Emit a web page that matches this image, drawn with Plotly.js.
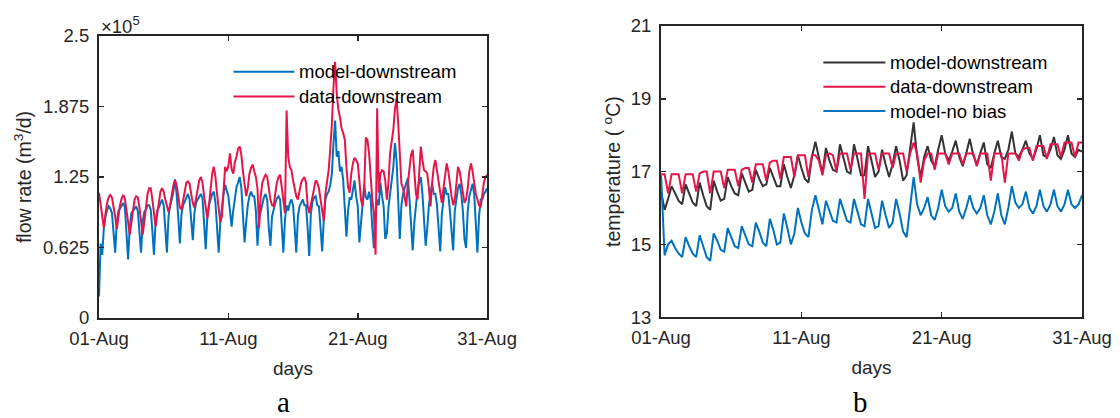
<!DOCTYPE html>
<html><head><meta charset="utf-8">
<script src="https://cdn.plot.ly/plotly-3.0.1.min.js"></script>
<style>html,body{margin:0;padding:0;background:#fff;} #chart{width:1120px;height:418px;}</style>
</head><body><div id="chart"></div>
<script>
// ---------- data ----------
// flow rate (units of 1e5 m3/d), sampled every 3 h from 01-Aug 00:00
const flowStepHours = 3;
const flowModel = [
0.19,0.66,0.56,0.80,0.90,0.96,0.99,0.97,
0.93,0.75,0.58,0.85,0.95,0.97,1.00,1.02,
0.98,0.75,0.52,0.80,0.93,0.95,0.97,0.99,
0.95,0.78,0.58,0.85,0.94,0.96,1.00,1.00,
0.96,0.77,0.56,0.86,0.95,0.98,1.02,1.05,
1.00,0.80,0.58,0.90,1.00,1.05,1.12,1.23,
1.10,0.90,0.66,0.92,1.00,1.03,1.07,1.10,
1.05,0.90,0.69,0.93,1.02,1.05,1.08,1.10,
1.06,0.85,0.61,0.90,1.00,1.05,1.10,1.12,
1.02,0.80,0.58,0.85,1.00,1.10,1.18,1.12,
1.08,0.95,0.81,0.95,1.08,1.16,1.20,1.25,
1.16,0.95,0.67,0.85,1.00,1.08,1.12,1.08,
1.08,0.95,0.64,0.88,0.95,1.02,1.07,1.10,
1.05,0.80,0.64,0.90,0.97,1.02,1.06,1.08,
1.05,0.85,0.58,0.87,1.00,0.95,1.02,1.05,
1.00,0.80,0.58,0.90,0.99,1.02,1.05,1.00,
1.00,0.80,0.55,0.92,1.03,1.07,1.08,1.00,
0.99,0.80,0.59,0.87,1.05,1.10,1.12,1.18,
1.28,1.55,1.75,1.43,1.48,1.30,1.34,1.22,
1.00,0.72,0.95,1.07,1.05,1.15,1.22,1.08,
0.99,0.67,0.85,1.04,1.18,1.07,1.05,1.12,
1.05,0.80,0.62,0.93,1.05,1.00,1.20,1.08,
0.99,0.70,0.75,0.98,1.10,1.19,1.34,1.55,
1.40,1.05,0.70,1.00,1.10,1.15,1.20,1.24,
1.05,0.80,0.60,0.85,1.00,1.14,1.20,1.25,
1.10,0.85,0.64,0.80,1.00,1.10,1.19,1.10,
1.10,1.00,0.80,0.59,0.92,1.05,1.16,1.10,
1.10,0.95,0.75,0.60,0.95,1.08,1.15,1.19,
1.10,0.95,0.70,0.62,0.95,1.08,1.15,1.19,
1.10,0.85,0.58,0.90,1.05,1.05,1.10,1.12,
1.15];
const flowData = [
1.11,1.00,0.88,0.80,0.92,1.02,1.07,1.09,
1.07,1.00,0.90,0.79,0.90,1.00,1.06,1.09,
1.06,0.97,0.85,0.74,0.85,0.98,1.05,1.08,
1.07,0.98,0.85,0.74,0.85,1.00,1.10,1.15,
1.15,1.05,0.92,0.81,0.92,1.05,1.12,1.15,
1.12,1.05,0.98,0.94,1.00,1.10,1.18,1.22,
1.18,1.08,0.98,0.96,1.05,1.15,1.20,1.21,
1.19,1.10,1.02,0.98,1.05,1.15,1.22,1.25,
1.20,1.08,0.95,0.88,1.00,1.15,1.28,1.34,
1.25,1.10,0.95,0.85,0.90,1.10,1.34,1.30,
1.35,1.46,1.32,1.28,1.38,1.43,1.50,1.52,
1.45,1.30,1.20,1.08,1.15,1.28,1.33,1.36,
1.30,1.25,1.15,0.80,1.08,1.20,1.24,1.27,
1.25,1.15,1.05,1.00,0.99,1.10,1.20,1.25,
1.27,1.16,1.05,0.93,1.84,1.43,1.34,1.31,
1.22,1.14,1.08,1.05,1.12,1.20,1.23,1.25,
1.20,1.00,0.93,1.00,1.08,1.15,1.22,1.20,
1.15,1.05,0.95,0.86,1.10,1.20,1.31,1.50,
1.72,2.05,2.27,1.99,1.85,1.78,1.68,1.64,
1.58,1.34,1.16,1.11,1.28,1.37,1.42,1.40,
1.37,1.22,1.05,0.99,1.16,1.60,1.58,1.46,
1.22,1.05,0.93,0.56,1.86,1.11,1.28,1.31,
1.30,1.22,1.05,1.20,1.46,1.55,1.67,1.85,
1.95,1.73,1.49,1.19,1.15,1.08,0.99,1.20,
1.34,1.45,1.49,1.30,1.10,1.05,1.30,1.52,
1.40,1.31,1.30,1.28,1.15,0.99,1.20,1.34,
1.40,1.30,1.19,1.10,1.02,1.15,1.28,1.37,
1.30,1.16,1.08,1.00,1.05,1.19,1.34,1.30,
1.20,1.10,1.02,1.05,1.15,1.30,1.37,1.30,
1.20,1.10,1.05,1.00,0.98,1.10,1.20,1.25,
1.27];

// temperature (deg C), sampled every 6 h from 01-Aug 00:00
const tempStepHours = 6;
const tempModel = [
16.45,15.95,16.25,16.60, 16.40,16.20,16.10,16.65, 16.40,16.15,16.05,16.70,
16.35,16.05,15.95,16.75, 16.45,16.20,16.25,16.85, 16.60,16.40,16.35,16.95,
16.70,16.45,16.50,17.05, 16.80,16.60,16.65,17.10, 16.85,16.60,16.60,17.20,
16.85,16.55,16.90,17.45, 17.10,16.80,16.70,17.40, 17.82,17.40,16.95,17.65,
17.30,17.05,17.00,17.75, 17.40,17.00,16.95,17.75, 17.35,16.90,16.90,17.70,
17.30,16.85,17.00,17.60, 17.20,16.85,17.20,17.70, 17.30,16.75,16.90,17.60,
18.35,17.40,16.85,17.40, 17.70,17.30,17.15,17.60, 18.00,17.50,17.30,17.55,
17.85,17.40,17.15,17.50, 17.90,17.45,17.20,17.50, 17.80,17.20,17.10,17.50,
17.85,17.40,17.35,17.60, 18.10,17.50,17.40,17.60, 17.85,17.50,17.35,17.60,
18.00,17.45,17.40,17.60, 17.95,17.45,17.35,17.60, 18.00,17.50,17.40,17.60,
17.55];
const tempData = [
16.93,16.93,16.40,16.93, 16.93,16.93,16.40,16.93, 16.93,16.93,16.45,16.95,
17.00,17.00,16.40,17.00, 17.00,17.00,16.55,17.05, 17.05,17.05,16.60,17.05,
17.10,17.10,16.70,17.20, 17.20,17.20,16.75,17.25, 17.30,17.30,16.80,17.40,
17.40,17.40,16.85,17.45, 17.45,17.45,16.85,17.45, 17.45,17.30,16.90,17.45,
17.50,17.45,17.00,17.50, 17.50,17.50,17.05,17.50, 17.50,17.50,16.25,17.50,
17.50,17.50,17.05,17.50, 17.50,17.50,17.10,17.50, 17.50,17.50,17.00,17.50,
17.80,17.50,16.70,17.30, 17.50,17.50,17.05,17.50, 17.50,17.50,17.20,17.50,
17.50,17.50,17.20,17.50, 17.50,17.50,17.15,17.50, 17.50,17.50,16.75,17.50,
17.50,17.50,16.70,17.50, 17.50,17.50,17.30,17.60, 17.65,17.65,17.30,17.70,
17.70,17.70,17.35,17.75, 17.75,17.75,17.40,17.80, 17.80,17.80,17.40,17.80,
17.80];
const tempNoBias = [
16.90,14.70,15.00,15.10, 14.90,14.75,14.65,15.20, 14.95,14.75,14.65,15.25,
14.95,14.65,14.55,15.30, 15.10,14.85,14.80,15.45, 15.20,14.95,14.90,15.50,
15.25,15.00,14.95,15.60, 15.35,15.05,14.95,15.70, 15.40,15.00,15.05,15.85,
15.45,15.00,15.30,16.00, 15.60,15.30,15.20,15.95, 16.35,15.95,15.55,16.20,
15.90,15.65,15.60,16.25, 15.95,15.65,15.60,16.25, 15.90,15.55,15.50,16.25,
15.85,15.45,15.50,16.20, 15.80,15.45,15.60,16.25, 15.85,15.35,15.20,16.10,
16.85,16.10,15.80,16.00, 16.30,15.80,15.67,16.00, 16.50,16.05,15.90,16.00,
16.40,15.90,15.70,16.00, 16.35,16.00,15.85,16.00, 16.35,15.80,15.55,15.90,
16.40,15.80,15.55,16.00, 16.60,16.15,16.00,16.10, 16.45,16.00,15.85,16.05,
16.50,16.05,15.90,16.10, 16.50,16.05,15.90,16.10, 16.50,16.10,16.00,16.10,
16.35];

const xTickVals = ['2017-08-01','2017-08-11','2017-08-21','2017-08-31'];
const xTickText = ['01-Aug','11-Aug','21-Aug','31-Aug'];
const flowTickVals = [0, 0.625, 1.25, 1.875, 2.5];
const flowTickText = ['0','0.625','1.25','1.875','2.5'];
const tempTickVals = [13, 15, 17, 19, 21];
const tempTickText = ['13','15','17','19','21'];
const flowNames = ['model-downstream','data-downstream'];
const tempNames = ['model-downstream','data-downstream','model-no bias'];

// ---------- helpers ----------
function timeAxis(n, stepH){
  const t0 = Date.UTC(2017,7,1);
  const out = [];
  for (let i=0;i<n;i++){
    const d = new Date(t0 + i*stepH*3600000);
    out.push(d.toISOString().slice(0,16).replace('T',' '));
  }
  return out;
}
const W=1120, H=418;
const M = {l:98.5, r:38.3, t:25.7, b:99.5};
const PW = W - M.l - M.r, PH = H - M.t - M.b;
const px = x => (x - M.l)/PW;
const py = y => (H - M.b - y)/PH;

const FONT = '"Liberation Sans", Arial, Helvetica, sans-serif';
const SERIF = '"Liberation Serif", "Times New Roman", serif';
const AX = '#262626';
const BLUE = '#0072BD', RED = '#E5154A', BLACK = '#333333';

const tFlow = timeAxis(flowModel.length, flowStepHours);
const tTemp = timeAxis(tempModel.length, tempStepHours);

const traces = [
  {x:tFlow, y:flowModel, name:flowNames[0], type:'scatter', mode:'lines', line:{color:BLUE,width:2}, xaxis:'x', yaxis:'y', showlegend:false},
  {x:tFlow, y:flowData,  name:flowNames[1], type:'scatter', mode:'lines', line:{color:RED,width:2},  xaxis:'x', yaxis:'y', showlegend:false},
  {x:tTemp, y:tempModel, name:tempNames[0], type:'scatter', mode:'lines', line:{color:BLACK,width:2}, xaxis:'x2', yaxis:'y2', showlegend:false},
  {x:tTemp, y:tempData,  name:tempNames[1], type:'scatter', mode:'lines', line:{color:RED,width:2},   xaxis:'x2', yaxis:'y2', showlegend:false},
  {x:tTemp, y:tempNoBias,name:tempNames[2], type:'scatter', mode:'lines', line:{color:BLUE,width:2},  xaxis:'x2', yaxis:'y2', showlegend:false}
];

const axisBase = {
  showline:true, linecolor:AX, linewidth:2, mirror:'ticks',
  ticks:'inside', ticklen:5, tickwidth:1.5, tickcolor:AX,
  showgrid:false, zeroline:false,
  tickfont:{family:FONT, size:18.5, color:AX}
};
const xBase = Object.assign({}, axisBase, {
  type:'date', range:['2017-08-01','2017-08-31'],
  tickmode:'array', tickvals:xTickVals, ticktext:xTickText,
  ticklabelstandoff:3,
  title:{text:'days', font:{family:FONT,size:19,color:AX}, standoff:13}
});

const layout = {
  width:W, height:H,
  margin:{l:M.l, r:M.r, t:M.t, b:M.b, pad:0},
  paper_bgcolor:'#fff', plot_bgcolor:'#fff',
  showlegend:false,
  font:{family:FONT, color:AX},
  xaxis: Object.assign({}, xBase, {domain:[0, px(486.7)], anchor:'y'}),
  yaxis: Object.assign({}, axisBase, {domain:[py(318.5), py(35.7)], anchor:'x',
    range:[0,2.5], tickmode:'array', tickvals:flowTickVals, ticktext:flowTickText,
    ticklabelstandoff:4,
    title:{text:'flow rate (m<sup>3</sup>/d)', font:{family:FONT,size:19.5,color:AX}, standoff:6}}),
  xaxis2: Object.assign({}, xBase, {domain:[px(660.7), px(1081.7)], anchor:'y2'}),
  yaxis2: Object.assign({}, axisBase, {domain:[py(317.7), py(25.7)], anchor:'x2',
    range:[13,21], tickmode:'array', tickvals:tempTickVals, ticktext:tempTickText,
    ticklabelstandoff:4,
    title:{text:'temperature ( <sup>o</sup>C)', font:{family:FONT,size:19.5,color:AX}, standoff:5}}),
  shapes:[],
  annotations:[
    {xref:'paper', yref:'paper', x:px(98), y:py(25), xanchor:'left', yanchor:'middle', showarrow:false,
     text:'\u00d710<sup>5</sup>', font:{family:FONT,size:18.5,color:AX}},
    {xref:'paper', yref:'paper', x:px(283), y:py(403), xanchor:'center', yanchor:'middle', showarrow:false,
     text:'a', font:{family:SERIF,size:29,color:'#000'}},
    {xref:'paper', yref:'paper', x:px(860), y:py(403), xanchor:'center', yanchor:'middle', showarrow:false,
     text:'b', font:{family:SERIF,size:29,color:'#000'}}
  ]
};

// manual legends (long line samples as in the original)
function addLegend(items, x0, x1, xt, ys){
  items.forEach((it,i)=>{
    layout.shapes.push({type:'line', xref:'paper', yref:'paper', x0:px(x0), x1:px(x1), y0:py(ys[i]), y1:py(ys[i]),
      line:{color:it.color, width:2}});
    layout.annotations.push({xref:'paper', yref:'paper', x:px(xt), y:py(ys[i]), xanchor:'left', yanchor:'middle',
      showarrow:false, text:it.name, font:{family:FONT,size:18.5,color:'#000'}});
  });
}
addLegend([{name:flowNames[0],color:BLUE},{name:flowNames[1],color:RED}], 233, 294, 297, [71.5, 96.5]);
addLegend([{name:tempNames[0],color:BLACK},{name:tempNames[1],color:RED},{name:tempNames[2],color:BLUE}], 823, 885, 888, [62.3, 86.7, 111]);

Plotly.newPlot('chart', traces, layout, {staticPlot:true, displayModeBar:false});
</script>
</body></html>
